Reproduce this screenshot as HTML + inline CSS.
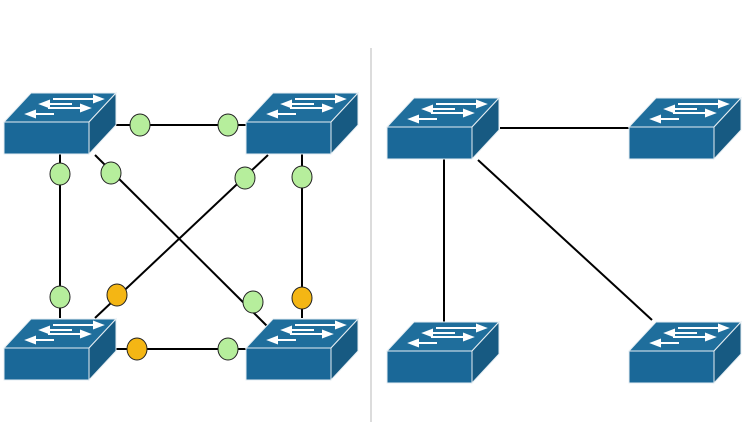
<!DOCTYPE html>
<html><head><style>html,body{margin:0;padding:0;background:#fff;width:750px;height:422px;overflow:hidden}</style></head>
<body>
<svg width="750" height="422" viewBox="0 0 750 422" xmlns="http://www.w3.org/2000/svg">
<defs>
<g id="sw">
<polygon points="0,0 27,-29 112,-29 85,0" fill="#1f6e9c" stroke="#e6eef3" stroke-width="1"/>
<polygon points="85,0 112,-29 112,3 85,32" fill="#175a82" stroke="#e6eef3" stroke-width="1"/>
<rect x="0" y="0" width="85" height="32" fill="#1a6898" stroke="#e6eef3" stroke-width="1"/>
<g stroke="#fff" stroke-width="2" fill="#fff">
<line x1="49" y1="-23" x2="95" y2="-23"/><polygon points="98,-23 90,-26 90,-20"/>
<line x1="44" y1="-14" x2="82" y2="-14"/><polygon points="85,-14 77,-17 77,-11"/>
<line x1="40" y1="-18" x2="68" y2="-18"/><polygon points="37,-18 45,-21 45,-15"/>
<line x1="26" y1="-8" x2="50" y2="-8"/><polygon points="23,-8 31,-11 31,-5"/>
</g>
</g>
</defs>
<line x1="371" y1="48" x2="371" y2="422" stroke="#b8b8b8" stroke-width="1"/>
<g stroke="#000" stroke-width="2">
<line x1="116" y1="125" x2="246" y2="125"/>
<line x1="116" y1="349" x2="246" y2="349"/>
<line x1="60" y1="154" x2="60" y2="318"/>
<line x1="302" y1="154" x2="302" y2="318"/>
<line x1="95" y1="155" x2="268" y2="327"/>
<line x1="268" y1="155" x2="95" y2="318"/>
<line x1="500" y1="128" x2="629" y2="128"/>
<line x1="444" y1="158" x2="444" y2="322"/>
<line x1="478" y1="160" x2="652" y2="320"/>
</g>
<use href="#sw" x="4" y="122"/>
<use href="#sw" x="246" y="122"/>
<use href="#sw" x="4" y="348"/>
<use href="#sw" x="246" y="348"/>
<use href="#sw" x="387" y="127"/>
<use href="#sw" x="629" y="127"/>
<use href="#sw" x="387" y="351"/>
<use href="#sw" x="629" y="351"/>
<g stroke="#222" stroke-width="1">
<ellipse cx="140" cy="125" rx="10" ry="11" fill="#b6ee9c"/>
<ellipse cx="228" cy="125" rx="10" ry="11" fill="#b6ee9c"/>
<ellipse cx="60" cy="174" rx="10" ry="11" fill="#b6ee9c"/>
<ellipse cx="60" cy="297" rx="10" ry="11" fill="#b6ee9c"/>
<ellipse cx="302" cy="177" rx="10" ry="11" fill="#b6ee9c"/>
<ellipse cx="302" cy="298" rx="10" ry="11" fill="#f4b614"/>
<ellipse cx="111" cy="173" rx="10" ry="11" fill="#b6ee9c"/>
<ellipse cx="253" cy="302" rx="10" ry="11" fill="#b6ee9c"/>
<ellipse cx="245" cy="178" rx="10" ry="11" fill="#b6ee9c"/>
<ellipse cx="117" cy="295" rx="10" ry="11" fill="#f4b614"/>
<ellipse cx="137" cy="349" rx="10" ry="11" fill="#f4b614"/>
<ellipse cx="228" cy="349" rx="10" ry="11" fill="#b6ee9c"/>
</g>
</svg>
</body></html>
